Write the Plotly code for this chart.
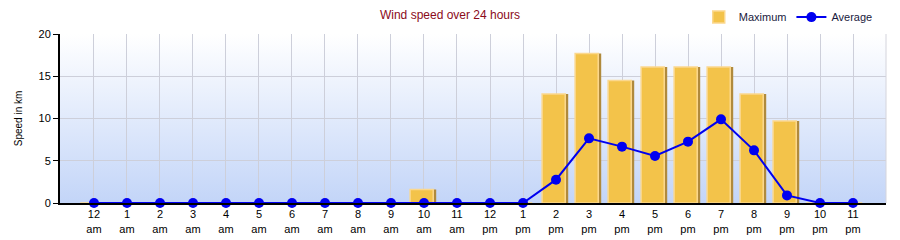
import base64
import plotly.graph_objects as go

hours = ["12<br>am", "1<br>am", "2<br>am", "3<br>am", "4<br>am", "5<br>am", "6<br>am", "7<br>am",
         "8<br>am", "9<br>am", "10<br>am", "11<br>am", "12<br>pm", "1<br>pm", "2<br>pm", "3<br>pm",
         "4<br>pm", "5<br>pm", "6<br>pm", "7<br>pm", "8<br>pm", "9<br>pm", "10<br>pm", "11<br>pm"]
maximum = [0, 0, 0, 0, 0, 0, 0, 0, 0, 0, 1.6, 0, 0, 0,
           12.9, 17.7, 14.5, 16.1, 16.1, 16.1, 12.9, 9.7, 0, 0]
average = [0, 0, 0, 0, 0, 0, 0, 0, 0, 0, 0, 0, 0, 0,
           2.76, 7.65, 6.67, 5.56, 7.26, 9.9, 6.23, 0.9, 0, 0]
y_ticks = [0, 5, 10, 15, 20]

xpos = list(range(len(hours)))

svg = ('<svg xmlns="http://www.w3.org/2000/svg" width="100" height="100" preserveAspectRatio="none">'
       '<defs><linearGradient id="g" x1="0" y1="0" x2="0" y2="1">'
       '<stop offset="0" stop-color="#FFFFFF"/><stop offset="1" stop-color="#C3D5F8"/>'
       '</linearGradient></defs><rect width="100" height="100" fill="url(#g)"/></svg>')
bg_src = "data:image/svg+xml;base64," + base64.b64encode(svg.encode()).decode()

font = "Liberation Sans, Arial, sans-serif"

fig = go.Figure()
# side (3D depth) of the bars
fig.add_trace(go.Bar(
    x=xpos, y=maximum, width=0.7, offset=-0.33,
    marker=dict(color="#B08A3C", line=dict(width=0)),
    showlegend=False, hoverinfo="skip",
))
# front face of the bars
fig.add_trace(go.Bar(
    x=xpos, y=maximum, width=0.7, offset=-0.42, name="Maximum",
    marker=dict(color="#F3C34A", line=dict(color="#FBD88E", width=1.5)),
))
fig.add_trace(go.Scatter(
    x=xpos, y=average, name="Average", mode="lines+markers",
    line=dict(color="#0000F0", width=2),
    marker=dict(color="#0000F0", size=10),
    cliponaxis=False,
))

fig.update_layout(
    width=900, height=240,
    margin=dict(l=60, r=14, t=34, b=37, autoexpand=False),
    paper_bgcolor="white", plot_bgcolor="white",
    barmode="overlay",
    font=dict(family=font, size=11, color="#000000"),
    title=dict(text="Wind speed over 24 hours", x=0.5, xanchor="center", y=0.94, yanchor="middle",
               font=dict(family=font, size=12, color="#8B0A1A")),
    legend=dict(orientation="h", x=0.99, xanchor="right", y=1.1, yanchor="middle",
                bgcolor="rgba(0,0,0,0)", font=dict(size=11, color="#1a1a40"),
                itemwidth=30, traceorder="normal"),
    images=[dict(source=bg_src, xref="paper", yref="paper", x=0, y=1, sizex=1, sizey=1,
                 xanchor="left", yanchor="top", sizing="stretch", layer="below")],
    shapes=[dict(type="line", xref="paper", yref="paper", x0=1, x1=1, y0=0, y1=1,
                 line=dict(color="#D4D4DC", width=1))],
)
fig.update_xaxes(
    range=[-1.03, 24.0], tickvals=xpos, ticktext=hours,
    showgrid=True, gridcolor="#CDCFDA", gridwidth=1,
    showline=True, linecolor="#000000", linewidth=2,
    ticks="", tickfont=dict(size=11),
    zeroline=False, fixedrange=True,
)
fig.update_yaxes(
    range=[0, 20], tickvals=y_ticks,
    showgrid=True, gridcolor="#CDCFDA", gridwidth=1,
    showline=True, linecolor="#000000", linewidth=2,
    ticks="outside", ticklen=5, tickcolor="#000000", tickfont=dict(size=11),
    zeroline=False,
    title=dict(text="Speed in km", font=dict(size=10), standoff=14),
)

fig.write_html("out.html")
